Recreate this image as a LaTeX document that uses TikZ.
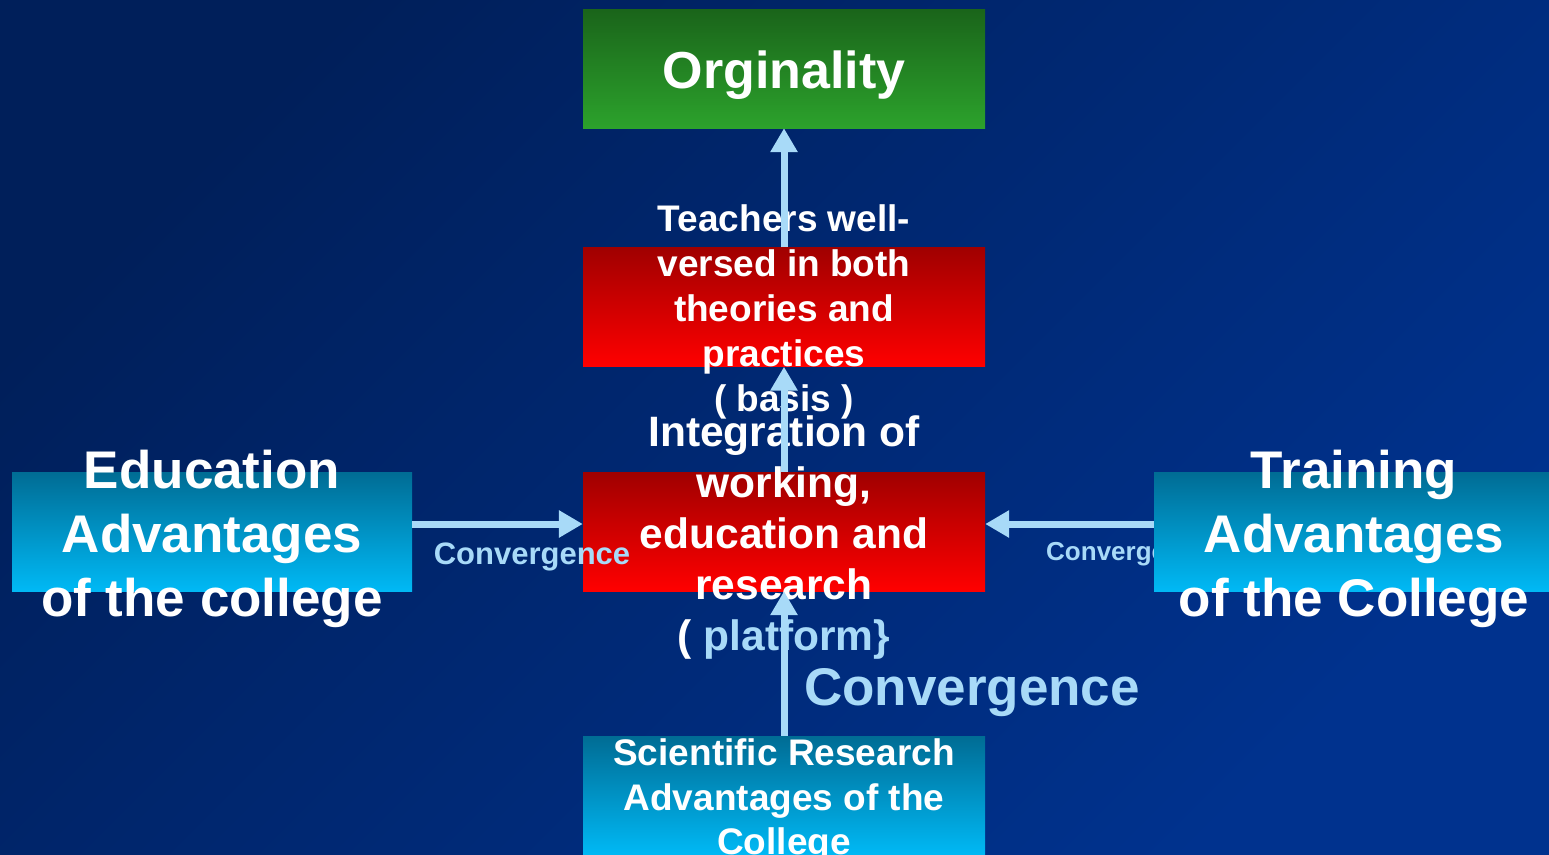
\documentclass[tikz,border=0pt]{standalone}
\usepackage{fontspec}
\setmainfont{Liberation Sans}
\usepackage{tikz}
\usetikzlibrary{arrows.meta}
\definecolor{bgtop}{RGB}{0,31,90}
\definecolor{bgbot}{RGB}{0,50,142}
\definecolor{greentop}{RGB}{26,100,26}
\definecolor{greenbot}{RGB}{44,162,44}
\definecolor{redtop}{RGB}{160,0,0}
\definecolor{redbot}{RGB}{255,0,0}
\definecolor{cyantop}{RGB}{0,108,148}
\definecolor{cyanbot}{RGB}{0,185,245}
\definecolor{convblue}{RGB}{168,218,248}
\newcommand{\fsz}[2]{\fontsize{#1}{#2}\selectfont\bfseries}
\tikzset{
  panel/.style = {rectangle, inner sep=0pt, minimum width=402pt, minimum height=119pt},
  gpanel/.style = {panel, top color=greentop, bottom color=greenbot},
  rpanel/.style = {panel, top color=redtop, bottom color=redbot},
  cpanel/.style = {panel, top color=cyantop, bottom color=cyanbot, minimum width=400pt},
  ptext/.style = {align=center, inner sep=0pt, text=white},
  conv/.style = {draw=convblue, line width=7pt, -{Triangle[length=24pt,width=26pt]}},
  convlabel/.style = {inner sep=0pt, text=convblue}
}

\begin{document}
\begin{tikzpicture}[x=1pt, y=-1pt]
\useasboundingbox (0,0) rectangle (1549,854);
\shade [top color=bgtop, bottom color=bgbot, shading angle=45] (0,0) rectangle (1549,854);

\node [gpanel] (orig) at (784,68.5) {};
\node [ptext, font=\fsz{52}{62}] (origtext) at (784,75) {Orginality};
\node [rpanel] (basis) at (784,307) {};
\node [ptext, font=\fsz{37}{45}] (basistext) at (784,312) {Teachers well-\\versed in both\\theories and\\practices\\( basis )};
\node [rpanel] (platform) at (784,531.5) {};
\node [ptext, font=\fsz{42.5}{51}] (platformtext) at (784,538) {Integration of\\working,\\education and\\research\\( \textcolor{convblue}{platform\}}};
\node [convlabel, font=\fsz{31}{37}] (convleft) at (532,557) {Convergence};
\node [cpanel] (edu) at (212,531.5) {};
\node [ptext, font=\fsz{53}{64}] (edutext) at (212,539) {Education\\Advantages\\of the college};
\node [convlabel, font=\fsz{26}{31}, anchor=west] (convright) at (1046,554) {Convergence};
\node [cpanel] (train) at (1354,531.5) {};
\node [ptext, font=\fsz{53}{64}] (traintext) at (1354,539) {Training\\Advantages\\of the College};
\node [cpanel, minimum width=402pt] (research) at (784,795.5) {};
\node [ptext, font=\fsz{37}{44.5}] (researchtext) at (784,801) {Scientific Research\\Advantages of the\\College};
\node [convlabel, font=\fsz{53}{64}] (convbottom) at (972,693) {Convergence};

% convergence arrows
\draw [conv] (basis) -- (orig);
\draw [conv] (platform) -- (basis);
\draw [conv] (research) -- (platform);
\draw [conv] ([yshift=7.5pt]edu.east) -- ([yshift=7.5pt]platform.west);
\draw [conv] ([yshift=7.5pt]train.west) -- ([yshift=7.5pt]platform.east);
\end{tikzpicture}
\end{document}
